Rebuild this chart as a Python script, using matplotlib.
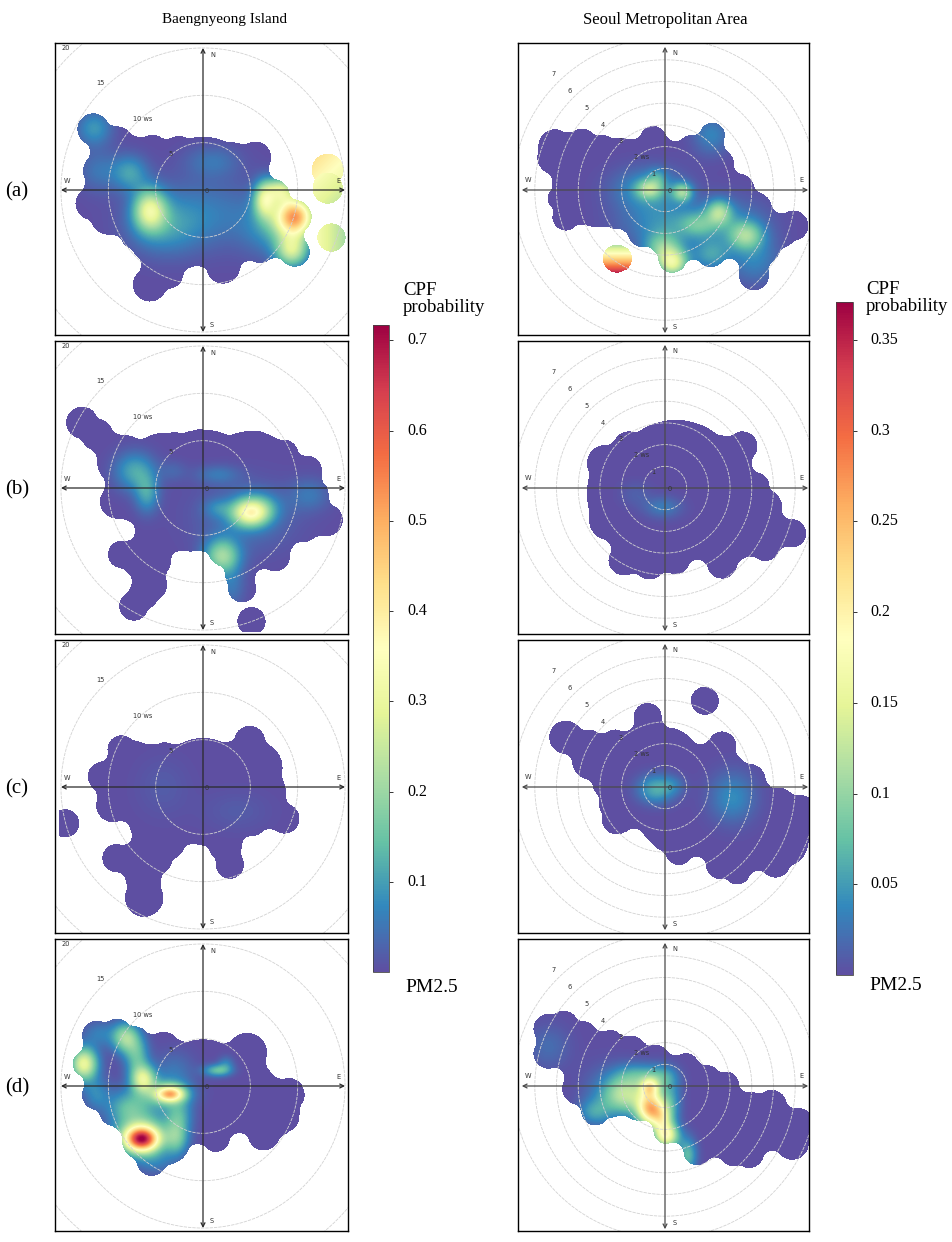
import numpy as np
import matplotlib
matplotlib.use("Agg")
import matplotlib.pyplot as plt

W, H = 952, 1242

# Footprint of each polar plot: discs as (east ws, north ws, radius)
discs_a_bi = [(-11.6, 6.4, 1.7), (-9.0, 5.1, 1.6), (-10.9, 2.0, 1.8), (-11.8, -1.4, 1.7), (-10.0, -2.8, 1.9),
              (-5.6, 0, 5.6), (-5.3, 4.1, 1.7), (-7.4, 3.9, 1.8), (0, 0, 5.6), (5.5, 3.4, 1.7), (3.2, 2.9, 2.1),
              (7.4, -0.7, 1.8), (9.7, -2.8, 1.8), (9.7, -6.5, 1.6), (6.0, -6.0, 1.7), (3.5, -2.8, 3.5),
              (6.3, -3.8, 2.1), (8.1, -4.5, 1.8), (2.1, -8.1, 1.8), (1.4, -5.6, 2.5), (-2.1, -6.7, 1.7),
              (-5.6, -10, 1.8), (-4.4, -8.1, 1.8), (-7.0, -4.5, 1.8), (-4.6, -4.9, 3.2), (-9, 1, 3.0), (-9.5, -1, 2.5),
              (-2.5, 4, 1.7), (0.3, -6.2, 1.5), (-9.5, 4.0, 1.8), (-3.5, -9, 1.4)]
discs_b_bi = [(-12.8, 6.9, 1.7), (-11.2, 5.6, 1.7), (-10, 4.4, 1.6), (-8.4, 2.8, 2.8), (-6.3, -0.35, 3.5),
              (-9.1, -1.4, 1.8), (-4.15, 2.1, 3.7), (0, 0.35, 5.8), (-1.3, -3.5, 3.2), (-0.3, 4.6, 1.6),
              (-4.15, -4.9, 2.1), (-8.6, -7, 1.45), (-5.9, -7.4, 2.6), (-5.6, -10.2, 1.85), (-7.3, -12.5, 1.55),
              (-6.3, -11.3, 1.6), (5, 0.7, 5.3), (5.7, 4.2, 1.8), (8.5, 3.5, 1.6), (11, 1.8, 1.6), (8.5, 0.35, 3.2),
              (11.7, -0.7, 1.6), (6.8, -3.5, 2.6), (10.6, -3.9, 1.8), (13.1, -3.35, 1.7), (7.6, -7.2, 1.6),
              (8.2, -5.3, 1.6), (2.5, -6.3, 2.1), (3.9, -9.15, 1.6), (4.1, -10.6, 1.5), (-7.5, 3.5, 1.8), (-3, 4.5, 1.4)]
discs_c_bi = [(-8.6, 3.95, 1.5), (-10.7, 1.1, 1.5), (-9.5, -1.9, 1.8), (-5.6, 0.6, 3.9), (0, 0.25, 4.9),
              (4.9, 4.8, 1.65), (5.6, 2, 2.8), (5.6, -0.8, 3.2), (8.6, -3.3, 1.6), (4.9, -2.9, 2.3), (2.8, -8.2, 1.5),
              (2.3, -6.1, 1.8), (0, -2.2, 3.9), (-4.6, -3.6, 3.2), (-9.15, -7.5, 1.5), (-6.2, -11.7, 2.05),
              (-6.3, -9.6, 1.9), (-5.6, -7.15, 2.5), (-3.9, -5.7, 2.1), (-7.0, 3.2, 1.6), (-4, 3.2, 1.5), (-8, 0.5, 1.8)]
discs_d_bi = [(-11.2, 5.3, 1.6), (-9.1, 5.5, 1.6), (-12.4, 2.3, 1.4), (-11.2, -0.9, 1.6), (-7.3, 4.4, 1.9),
              (-4.15, 3.9, 1.8), (-9.1, 1.9, 3.5), (-9.4, -2.6, 1.6), (-7, -0.9, 4.2), (-6.6, -5.8, 1.95),
              (-5.4, -7.9, 1.6), (-3.8, -5.8, 2.5), (-3.8, 1.2, 3.9), (0, 0, 4.9), (1.3, -5.45, 1.5),
              (4.65, 3.5, 2.1), (3.9, -0.9, 4), (9.05, -0.9, 1.7), (8.5, -3.2, 1.7), (6.4, -5.1, 1.7),
              (7.1, -2.3, 3.2), (2.9, -3.3, 1.8), (-11, 2, 2.0), (-5, -3.5, 3.0)]
discs_a_sma = [(-5.1, 2.0, 0.77), (-5.15, 1.5, 0.77), (-3.85, 2.1, 0.7), (-2.9, 1.8, 0.7), (-2.0, 1.66, 0.7),
               (-0.6, 2.3, 0.62), (-4.15, 0.5, 1.08), (-3.1, 0.2, 1.92), (-4.9, -0.4, 0.54), (-4.6, -1.26, 0.62),
               (-4.15, -0.88, 0.77), (-1.54, 0.05, 1.85), (0, 0.2, 1.72), (2.15, 2.5, 0.58), (1.23, 1.74, 0.77),
               (2.46, 1.2, 0.7), (1.4, 0.2, 1.38), (3.4, 0.05, 0.7), (4.15, -0.88, 0.77), (2.3, -0.88, 1.7),
               (3.85, -1.8, 1.23), (5.9, -1.65, 0.7), (5.4, -2.03, 0.62), (4.6, -2.7, 0.7), (4.08, -3.95, 0.7),
               (4.08, -3.2, 0.77), (2.08, -2.88, 0.7), (1.08, -1.5, 1.23), (0.3, -3.18, 0.66), (0, -2.1, 0.92),
               (-1.08, -1.95, 0.7), (-2.3, -1.18, 0.62)]
discs_b_sma = [(-0.77, -0.28, 2.85), (0.46, 0.03, 3.08), (-2.77, 1.1, 0.85), (-1.7, 1.88, 0.7), (-2.6, -1.5, 0.92),
               (-1.92, -3.35, 0.7), (-0.77, -3.5, 0.74), (0.46, -3.35, 0.65), (2.6, -3.5, 0.7), (2.46, 1.8, 0.62),
               (3.54, 1.88, 0.7), (2.92, 1.18, 0.7), (4.15, 0.03, 0.65), (4.54, -0.9, 0.85), (2.7, -1.5, 2),
               (4, -1.97, 1.23), (4.6, -2.74, 0.65), (5.85, -2.1, 0.65), (5.2, -2.3, 0.35)]
discs_c_sma = [(-0.85, 3.2, 0.65), (-4.6, 2.26, 0.77), (-3.5, 1.9, 0.7), (-2.3, 2.0, 0.62),
               (-3.4, 1.2, 0.92), (-1.85, 0.57, 1.6), (0, 1.18, 1.54), (-2.23, -1.5, 0.7), (-1.85, -0.66, 1.23),
               (2.6, 1.88, 0.65), (1.4, 1.18, 0.77), (3.85, 0.26, 0.77), (2.3, -0.35, 2), (0.46, -1.12, 1.85),
               (0, -2.2, 0.77), (0.6, -3, 0.62), (2.54, -3.58, 0.7), (3.3, -3.9, 0.62), (5.08, -3.5, 0.7),
               (6.15, -1.28, 0.92), (5.38, -2.5, 1.23), (3.85, -1.9, 1.7), (5.23, -0.8, 0.77)]
discs_d_sma = [(-5.4, 2.6, 0.7), (-4.7, 2.74, 0.7), (-5.4, 1.5, 0.7), (-3.85, 2.2, 0.77), (-4.15, 1.6, 0.92),
               (-2.54, 1.9, 0.65), (-1.6, 1.66, 0.62), (-0.46, 1.28, 0.62), (0.92, 0.9, 0.62), (-4, -0.1, 0.77),
               (-3.23, -1.18, 0.65), (-2.77, 0.2, 1.7), (-2.15, -0.4, 1), (-1.08, -0.26, 1.38), (0, -2.1, 0.58),
               (0.3, -0.72, 1.3), (0.3, -1.65, 0.62), (1.85, 0.2, 0.77), (2.77, 0.05, 0.62), (1.7, -0.72, 1.23),
               (1.46, -3.03, 0.65), (3.85, -3.1, 0.7), (3.15, -3.03, 0.7), (2.92, -1.8, 1.3), (4.9, -0.88, 0.7),
               (3.85, -1.34, 1.08), (5.85, -2.65, 0.77), (6.15, -1.72, 0.7), (5.38, -1.8, 0.46)]

# CPF maxima: (east ws, north ws, probability, spread east, spread north)
peaks_a_bi = [(-5.6, -2.1, 0.26, 1.2, 1.5), (-7.7, 1.8, 0.10, 1.3, 1.3), (-4, -4, 0.07, 2.5, 2), (0, -2.5, 0.06, 4.5, 2.5),
              (9.7, -2.8, 0.50, 1.5, 1.5), (6.5, -1.0, 0.25, 0.8, 1.3), (8.2, 0.0, 0.22, 1.0, 0.9), (9.4, -6.4, 0.24, 1.2, 1.2),
              (-11.5, 6.5, 0.09, 1.3, 1.3), (1, 3.0, 0.05, 2, 1.2), (7, -4, 0.07, 2, 2), (-11, 2, 0.05, 1.5, 1.5)]
peaks_b_bi = [(5, -2.6, 0.30, 1.4, 1.0), (6.0, -1.8, 0.06, 1.5, 1.0), (2, -7.2, 0.20, 1.3, 1.3),
              (-5.9, -0.6, 0.10, 0.9, 1.4), (-7.2, 1.75, 0.11, 1.5, 1.4), (1.5, 1.4, 0.05, 1.6, 0.7), (-3.1, 1.75, 0.03, 1.0, 0.8),
              (1.5, -2.1, 0.05, 1, 0.7), (11.3, -0.7, 0.05, 1.5, 1.2), (3, -10.5, 0.05, 1, 1.5), (4.5, -3, 0.05, 3.5, 2.5)]
peaks_c_bi = [(-4.2, 0, 0.018, 2, 2.2), (3.5, -2.5, 0.018, 2.5, 1.5)]
peaks_d_bi = [(-6.45, -5.6, 0.52, 1.25, 0.9), (-6.6, -5.2, 0.20, 1.9, 1.5), (-3.45, -0.8, 0.32, 1.0, 0.55),
              (-3.6, -0.8, 0.15, 1.6, 0.9), (-6.3, 0.7, 0.26, 0.9, 1.0), (-8.2, 5.1, 0.20, 1.0, 1.1), (-12.6, 2.3, 0.30, 1.0, 1.2),
              (-7.0, 3.2, 0.13, 0.9, 1.4), (1.5, 1.6, 0.14, 1.0, 0.45), (2.4, 2.3, 0.06, 0.6, 0.6), (-8, -2.2, 0.10, 1.5, 1.2),
              (-2.75, -5.4, 0.15, 0.9, 1.3), (-6, -2, 0.05, 2.2, 1.8), (-5, -8, 0.05, 1.5, 1), (-11.3, -0.8, 0.07, 1, 1.2), (-11, 5.5, 0.06, 1.2, 1.0),
              (-3, 1.5, 0.05, 1.5, 1.5), (-2.5, -3, 0.1, 1.0, 1.2)]
peaks_a_sma = [(-0.77, 0.05, 0.08, 0.4, 0.3), (-0.8, 0, 0.05, 1.1, 0.7), (0.77, -0.1, 0.09, 0.32, 0.3), (-0.4, 0.6, 0.03, 0.3, 0.3),
               (2.46, -1.03, 0.09, 0.4, 0.4), (3.7, -2.1, 0.085, 0.55, 0.45), (1.5, -1.6, 0.05, 0.6, 0.4), (-0.15, -2.7, 0.08, 0.6, 0.5),
               (0.3, -3.4, 0.14, 0.5, 0.45), (2.1, -3.0, 0.05, 0.6, 0.5), (3, -1.5, 0.03, 1.2, 0.8), (0, -1.6, 0.04, 1.4, 0.7),
               (4.1, -3.2, 0.035, 0.8, 0.8), (2.1, 2.5, 0.035, 0.6, 0.6)]
peaks_b_sma = [(-0.15, -0.9, 0.03, 0.6, 0.35), (-1.4, -0.3, 0.012, 0.5, 0.4)]
peaks_c_sma = [(-0.46, -0.12, 0.06, 0.6, 0.45), (0.3, 0.05, 0.02, 0.4, 0.3), (3.08, -0.5, 0.04, 0.75, 0.8)]
peaks_d_sma = [(-0.7, -1.05, 0.24, 0.45, 0.55), (-0.75, -0.05, 0.13, 0.3, 0.3), (-0.2, -1.5, 0.08, 0.3, 0.4), (0, -2.3, 0.17, 0.4, 0.4),
               (-1.8, -0.4, 0.10, 0.65, 0.55), (-2.6, -0.5, 0.035, 0.8, 0.9), (-1.3, 0.5, 0.05, 0.7, 0.4), (0.2, -0.8, 0.05, 0.35, 0.8),
               (1.0, -3.2, 0.07, 0.3, 0.55), (-3.3, -1.2, 0.04, 0.5, 0.4), (-5.4, 1.8, 0.02, 0.7, 0.7), (-0.2, 0.4, 0.05, 0.5, 0.4)]

# Detached cells: (east ws, north ws, radius, probability, slope east, slope north)
cells_a_bi = [(13.2, 2.1, 1.7, 0.37, -0.02, 0.02), (13.2, 0.2, 1.6, 0.30, -0.02, 0.02), (13.6, -5, 1.5, 0.27, -0.04, 0)]
cells_b_bi = [(5.1, -14.1, 1.5, 0.0, 0, 0)]
cells_c_bi = [(-14.6, -3.8, 1.5, 0.0, 0, 0)]
cells_a_sma = [(-2.23, -3.18, 0.65, 0.23, 0, -0.185)]
cells_c_sma = [(1.8, 3.95, 0.65, 0.0, 0, 0)]

rings_bi = [5, 10, 15, 20]
rings_sma = [1, 2, 3, 4, 5, 6, 7]
ticks_bi = [0.1, 0.2, 0.3, 0.4, 0.5, 0.6, 0.7]
ticks_sma = [0.05, 0.1, 0.15, 0.2, 0.25, 0.3, 0.35]
tick_labels_sma = ["0.05", "0.1", "0.15", "0.2", "0.25", "0.3", "0.35"]
panel_names = ["(a)", "(b)", "(c)", "(d)"]

# Pixel layout of the figure
rows_top = [43, 341, 640, 939]
rows_bottom = [335, 634, 933, 1231]
rows_centre = [190, 488, 787, 1086]
SERIF = "Liberation Serif"


def dilate(mask, radius):
    # binary dilation by a disc, done with an FFT convolution
    n = int(np.ceil(radius))
    yy, xx = np.mgrid[-n:n + 1, -n:n + 1]
    kernel = np.zeros_like(mask, dtype=float)
    kernel[yy % mask.shape[0], xx % mask.shape[1]] = (xx ** 2 + yy ** 2 <= radius ** 2).astype(float)
    conv = np.fft.irfft2(np.fft.rfft2(mask.astype(float)) * np.fft.rfft2(kernel), s=mask.shape)
    return conv > 0.5


def close_mask(mask, radius):
    # closes the small notches left between neighbouring discs
    pad = int(2 * radius) + 2
    big = np.pad(mask, pad)
    closed = ~dilate(~dilate(big, radius), radius)
    return closed[pad:-pad, pad:-pad]


def draw_rose(frame_x, row, centre_x, ws_px, limit, arrow, vmax, discs, peaks, cells, rings, labels, compass,
              smooth, axis_color):
    left, right = frame_x
    top, bottom = rows_top[row], rows_bottom[row]
    ax = fig.add_axes([left / W, 1 - bottom / H, (right - left) / W, (bottom - top) / H])

    # surface on a regular grid, masked outside the sampled footprint
    xs = np.linspace(-limit, limit, int(2 * limit * ws_px))
    X, Y = np.meshgrid(xs, xs)
    Z = np.zeros_like(X)
    for px, py, v, sx, sy in peaks:
        Z += v * np.exp(-0.5 * (((X - px) / sx) ** 2 + ((Y - py) / sy) ** 2))
    inside = np.zeros_like(X, dtype=bool)
    for dx, dy, r in discs:
        inside |= (X - dx) ** 2 + (Y - dy) ** 2 <= r ** 2
    inside = close_mask(inside, smooth * ws_px)
    for dx, dy, r, v, gx, gy in cells:
        cell = (X - dx) ** 2 + (Y - dy) ** 2 <= r ** 2
        Z[cell] = v + gx * (X[cell] - dx) + gy * (Y[cell] - dy)
        inside |= cell
    ax.imshow(np.ma.array(Z, mask=~inside), origin="lower", extent=[-limit, limit, -limit, limit],
              cmap="Spectral_r", vmin=0, vmax=vmax, interpolation="nearest", aspect="auto")
    ax.set_xlim((left - centre_x) / ws_px, (right - centre_x) / ws_px)
    ax.set_ylim((rows_centre[row] - bottom) / ws_px, (rows_centre[row] - top) / ws_px)

    # rings and compass
    t = np.linspace(0, 2 * np.pi, 360)
    for r in rings:
        ax.plot(r * np.cos(t), r * np.sin(t), color="#d2d2d2", lw=0.6, ls=(0, (4, 1.2)))
    for xy0, xy1 in [((-arrow, 0), (arrow, 0)), ((0, -arrow), (0, arrow))]:
        ax.annotate("", xy=xy1, xytext=xy0,
                    arrowprops=dict(arrowstyle="<->", color=axis_color, lw=0.9, mutation_scale=7,
                                    shrinkA=0, shrinkB=0))
    for x, y, s in labels + compass:
        ax.text(x, y, s, fontsize=4.8, color="#333333", ha="center", va="center")

    ax.set_xticks([])
    ax.set_yticks([])
    for spine in ax.spines.values():
        spine.set_linewidth(1.0)
        spine.set_color("black")


def draw_scale(box, vmax, ticks, tick_labels, title_x, title_y, pm_x, pm_y, label_x):
    left, right, top, bottom = box
    cax = fig.add_axes([left / W, 1 - bottom / H, (right - left) / W, (bottom - top) / H])
    sm = plt.cm.ScalarMappable(norm=plt.Normalize(0, vmax), cmap="Spectral_r")
    cb = fig.colorbar(sm, cax=cax)
    cb.set_ticks(ticks)
    cb.set_ticklabels([])
    cb.ax.tick_params(length=3, width=0.7, color="#333333")
    cb.outline.set_linewidth(0.6)
    cb.outline.set_edgecolor("#444444")
    for v, s in zip(ticks, tick_labels):
        y = bottom - (bottom - top) * v / vmax
        fig.text(label_x / W, 1 - y / H, s, family=SERIF, fontsize=11.5, va="center", ha="left")
    fig.text(title_x / W, 1 - title_y / H, "CPF\nprobability", family=SERIF, fontsize=13.5, va="center",
             ha="left", linespacing=1.0)
    fig.text(pm_x / W, 1 - pm_y / H, "PM2.5", family=SERIF, fontsize=14, va="center", ha="left")


fig = plt.figure(figsize=(W / 100, H / 100), dpi=100)

labels_bi = [(-14.5, 15, "20"), (-10.8, 11.3, "15"), (-6.4, 7.5, "10 ws"), (-3.4, 3.8, "5"), (0.35, -0.1, "0")]
compass_bi = [(1.0, 14.3, "N"), (-14.4, 1.0, "W"), (14.3, 1.0, "E"), (0.95, -14.3, "S")]
labels_sma = [(-5.15, 5.35, "7"), (-4.4, 4.55, "6"), (-3.6, 3.8, "5"), (-2.85, 3.0, "4"), (-2.06, 2.28, "3"),
              (-1.08, 1.5, "2 ws"), (-0.54, 0.74, "1"), (0.2, -0.03, "0")]
compass_sma = [(0.43, 6.3, "N"), (-6.3, 0.46, "W"), (6.3, 0.46, "E"), (0.43, -6.3, "S")]

discs_bi = [discs_a_bi, discs_b_bi, discs_c_bi, discs_d_bi]
peaks_bi = [peaks_a_bi, peaks_b_bi, peaks_c_bi, peaks_d_bi]
cells_bi = [cells_a_bi, cells_b_bi, cells_c_bi, []]
discs_sma = [discs_a_sma, discs_b_sma, discs_c_sma, discs_d_sma]
peaks_sma = [peaks_a_sma, peaks_b_sma, peaks_c_sma, peaks_d_sma]
cells_sma = [cells_a_sma, [], cells_c_sma, []]

for i in range(4):
    draw_rose((55, 348), i, 203, 9.47, 15.2, 15.0, 0.717, discs_bi[i], peaks_bi[i], cells_bi[i],
              rings_bi, labels_bi, compass_bi, 1.0, "#2a2a2a")
    draw_rose((518, 809), i, 665, 21.7, 6.7, 6.6, 0.371, discs_sma[i], peaks_sma[i], cells_sma[i],
              rings_sma, labels_sma, compass_sma, 0.45, "#4a4a4a")
    fig.text(17 / W, 1 - (rows_centre[i] + 2) / H, panel_names[i], family=SERIF, fontsize=15, ha="center", va="center")

fig.text(225 / W, 1 - 20 / H, "Baengnyeong Island", family=SERIF, fontsize=11, ha="center", va="center")
fig.text(665 / W, 1 - 20 / H, "Seoul Metropolitan Area", family=SERIF, fontsize=12, ha="center", va="center")

draw_scale((373, 389, 325, 972), 0.717, ticks_bi, [str(v) for v in ticks_bi], 403, 299, 405, 988, 407)
draw_scale((836, 853, 302, 975), 0.371, ticks_sma, tick_labels_sma, 866, 298, 869, 985, 870)

fig.savefig("out.png", dpi=100)
